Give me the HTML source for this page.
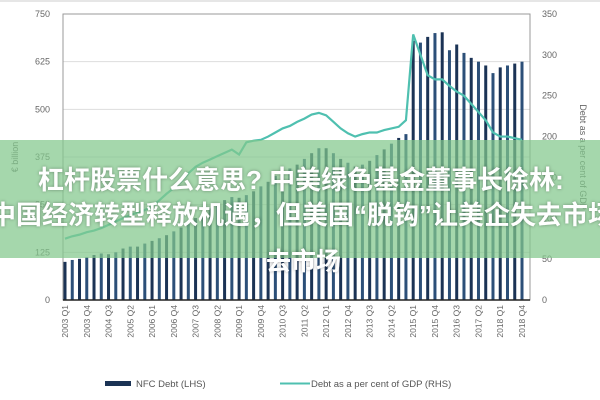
<!DOCTYPE html>
<html><head><meta charset="utf-8"><style>
body{margin:0;width:600px;height:400px;overflow:hidden;background:#fff;font-family:"Liberation Sans",sans-serif;position:relative}
#banner{position:absolute;left:0;top:140px;width:600px;height:118px;background:rgba(130,200,140,0.72)}
.bt{position:absolute;white-space:nowrap;color:#fff;font-weight:bold;font-size:26px;line-height:30px;font-family:"Liberation Sans","Noto Sans CJK SC",sans-serif;text-shadow:0 0 3px rgba(0,0,0,0.35)}
</style></head><body>
<svg id="chart" width="600" height="400" style="position:absolute;left:0;top:0"></svg>
<div id="banner"></div>
<div class="bt" style="left:38px;top:165px">杠杆股票什么意思? 中美绿色基金董事长徐林:</div>
<div class="bt" style="left:-10px;top:200px">中国经济转型释放机遇，但美国“脱钩”让美企失去市场</div>
<div class="bt" style="left:266px;top:247px;font-size:25px">去市场</div>
<script>
const categories=[];for(let y=2003;y<=2018;y++)for(let q=1;q<=4;q++)categories.push(y+' Q'+q);
const debtValues=[100,105,108,112,118,122,120,125,135,140,140,148,155,162,170,180,190,200,215,228,240,252,262,270,268,275,285,298,310,325,335,345,355,370,385,398,398,385,370,360,350,355,365,380,395,410,425,435,680,675,690,700,702,655,670,648,635,625,615,595,610,615,620,625];
const gdpValues=[75,78,80,83,85,88,92,96,100,104,107,110,115,122,130,137,145,155,163,168,172,176,180,184,178,193,195,196,200,205,210,213,218,222,227,229,226,218,210,204,200,203,205,205,208,210,212,220,325,300,275,270,270,262,255,250,240,230,220,205,200,200,198,196];
const leftTicks=[0,125,250,375,500,625,750];
const rightTicks=[0,50,100,150,200,250,300,350];
const svg=document.getElementById('chart');const NS='http://www.w3.org/2000/svg';
function mk(t,a,p){const e=document.createElementNS(NS,t);for(const k in a)e.setAttribute(k,a[k]);(p||svg).appendChild(e);return e;}
const X0=63,X1=530,Y0=300,Y1=14;
const xs=i=>65+i*(522-65)/(categories.length-1);
const yl=v=>Y0-v/750*(Y0-Y1);
const yr=v=>Y0-v/350*(Y0-Y1);
mk('line',{x1:0,y1:1,x2:600,y2:1,stroke:'#ccc'});
leftTicks.forEach(t=>{const g=mk('line',{x1:X0,x2:X1,y1:yl(t),y2:yl(t),stroke:'#ddd'});

const tx=mk('text',{x:50,y:yl(t)+3,'text-anchor':'end','font-size':9,fill:'#666'});tx.textContent=t;
});
rightTicks.forEach(t=>{const tx=mk('text',{x:542,y:yr(t)+3,'font-size':9,fill:'#666'});tx.textContent=t;
});
const fr=mk('rect',{x:X0,y:Y1,width:X1-X0,height:Y0-Y1,fill:'none',stroke:'#999'});

debtValues.forEach((v,i)=>{const b=mk('rect',{x:xs(i)-1.5,y:yl(v),width:3,height:Y0-yl(v),fill:i%2?'#2c4f78':'#1b3355'});
});
const ln=mk('polyline',{points:gdpValues.map((v,i)=>xs(i)+','+yr(v)).join(' '),fill:'none',stroke:'#4fc0b0','stroke-width':2.2});

mk('line',{x1:X0,x2:X1,y1:Y0,y2:Y0,stroke:'#222','stroke-width':1.5});
categories.forEach((c,i)=>{if(i%3)return;const tx=mk('text',{transform:`translate(${xs(i)+3},305) rotate(-90)`,'text-anchor':'end','font-size':8.5,fill:'#666'});tx.textContent=c;
});
const la=mk('text',{transform:'translate(18,157) rotate(-90)','text-anchor':'middle','font-size':9,fill:'#666'});la.textContent='€ billion';

const ra=mk('text',{transform:'translate(580,157) rotate(90)','text-anchor':'middle','font-size':9,fill:'#666'});ra.textContent='Debt as a per cent of GDP';

const lg1=mk('rect',{x:105,y:381,width:26,height:5,fill:'#1b3355'});

const lt1=mk('text',{x:136,y:387,'font-size':9.5,fill:'#555'});lt1.textContent='NFC Debt (LHS)';

const lg2=mk('line',{x1:280,x2:310,y1:383.5,y2:383.5,stroke:'#4fc0b0','stroke-width':2});

const lt2=mk('text',{x:311,y:387,'font-size':9.5,fill:'#555'});lt2.textContent='Debt as a per cent of GDP (RHS)';

</script>
</body></html>
